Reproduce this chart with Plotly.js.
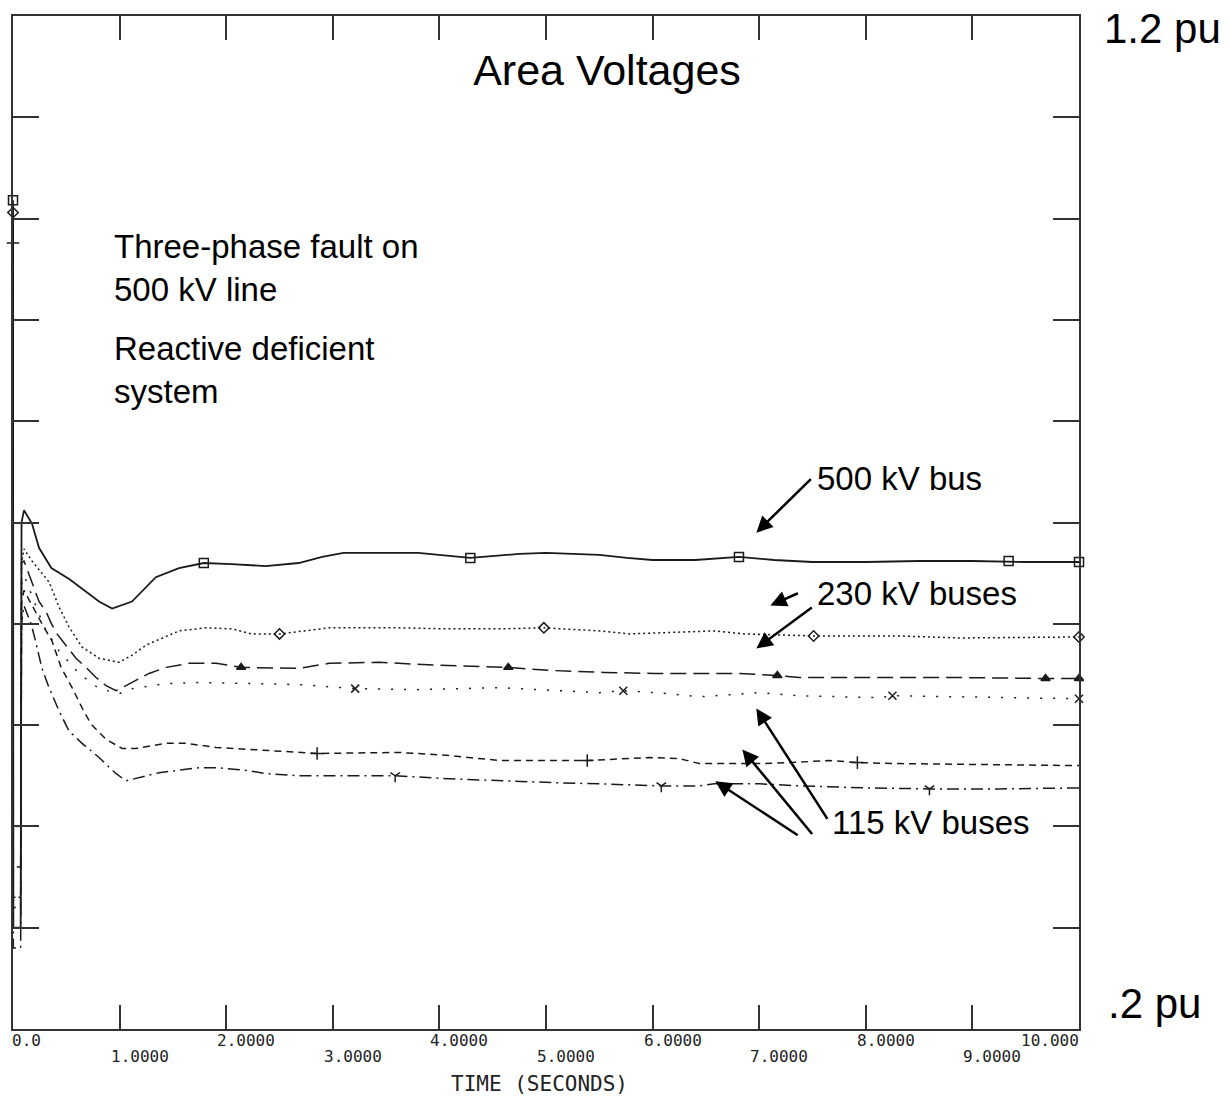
<!DOCTYPE html>
<html>
<head>
<meta charset="utf-8">
<script src="https://cdn.plot.ly/plotly-3.0.1.min.js"></script>
<style>
  html, body { margin: 0; padding: 0; background: #fff; }
  #chart { width: 1230px; height: 1097px; }
</style>
</head>
<body>
<div id="chart"></div>
<script>
// ---------------- DATA (time in seconds, voltage in pu) ----------------
const t500 = [0, 0.003, 0.072, 0.08, 0.103, 0.178, 0.244, 0.36, 0.53, 0.66, 0.807, 0.93, 1.116, 1.34, 1.557, 1.79, 2.05, 2.37, 2.68, 2.9, 3.1, 3.5, 3.8, 4.29, 4.75, 5.0, 5.5, 5.76, 6.0, 6.4, 6.81, 7.14, 7.5, 8.0, 8.5, 9.0, 9.5, 10];
const v500 = [1.018, 0.30, 0.30, 0.70, 0.712, 0.699, 0.675, 0.655, 0.644, 0.634, 0.622, 0.615, 0.622, 0.646, 0.655, 0.660, 0.659, 0.657, 0.660, 0.666, 0.670, 0.670, 0.670, 0.665, 0.669, 0.670, 0.668, 0.665, 0.663, 0.663, 0.666, 0.663, 0.661, 0.661, 0.662, 0.662, 0.661, 0.661];

const t230a = [0, 0.003, 0.072, 0.08, 0.103, 0.178, 0.34, 0.43, 0.525, 0.648, 0.807, 0.995, 1.117, 1.25, 1.557, 1.81, 2.055, 2.24, 2.5, 2.97, 3.62, 4.09, 4.56, 4.98, 5.5, 5.78, 6.58, 6.86, 7.52, 8.32, 8.88, 10];
const v230a = [1.006, 0.33, 0.33, 0.66, 0.674, 0.662, 0.641, 0.617, 0.597, 0.577, 0.566, 0.562, 0.569, 0.579, 0.593, 0.596, 0.595, 0.590, 0.590, 0.596, 0.596, 0.595, 0.595, 0.596, 0.593, 0.590, 0.593, 0.590, 0.588, 0.588, 0.586, 0.587];

const t230b = [0, 0.003, 0.072, 0.08, 0.103, 0.244, 0.31, 0.366, 0.413, 0.497, 0.591, 0.685, 0.779, 0.873, 0.967, 1.06, 1.276, 1.436, 1.652, 1.905, 2.14, 2.684, 2.966, 3.435, 3.998, 4.646, 5.03, 5.547, 6.016, 6.814, 7.17, 7.377, 8.832, 9.686, 10];
const v230b = [1.015, 0.36, 0.36, 0.66, 0.662, 0.622, 0.612, 0.599, 0.590, 0.579, 0.566, 0.557, 0.547, 0.539, 0.534, 0.539, 0.551, 0.557, 0.561, 0.561, 0.557, 0.556, 0.561, 0.562, 0.559, 0.557, 0.554, 0.552, 0.551, 0.551, 0.549, 0.547, 0.547, 0.546, 0.546];

const t115a = [0, 0.003, 0.072, 0.08, 0.103, 0.197, 0.291, 0.432, 0.619, 0.807, 0.995, 1.117, 1.436, 1.746, 2.309, 2.684, 3.21, 3.81, 4.561, 5.124, 5.5, 5.725, 6.157, 6.438, 7.001, 7.377, 8.128, 8.25, 9.254, 10];
const v115a = [1.0, 0.40, 0.40, 0.64, 0.648, 0.622, 0.597, 0.573, 0.551, 0.536, 0.531, 0.536, 0.541, 0.542, 0.541, 0.540, 0.536, 0.535, 0.537, 0.534, 0.532, 0.534, 0.531, 0.528, 0.532, 0.529, 0.527, 0.529, 0.527, 0.526];

const t115b = [0, 0.003, 0.072, 0.08, 0.103, 0.178, 0.272, 0.366, 0.451, 0.554, 0.648, 0.732, 0.873, 1.023, 1.154, 1.436, 1.624, 1.905, 2.215, 2.684, 2.853, 3.623, 4.092, 4.561, 5.387, 5.969, 6.25, 6.438, 7.001, 7.283, 7.658, 7.921, 8.315, 10];
const v115b = [0.976, 0.32, 0.32, 0.62, 0.633, 0.618, 0.600, 0.583, 0.557, 0.537, 0.517, 0.501, 0.486, 0.477, 0.477, 0.482, 0.482, 0.478, 0.476, 0.473, 0.472, 0.473, 0.470, 0.465, 0.465, 0.468, 0.467, 0.462, 0.462, 0.463, 0.465, 0.463, 0.462, 0.460];

const t115c = [0, 0.003, 0.072, 0.08, 0.103, 0.169, 0.197, 0.272, 0.338, 0.432, 0.526, 0.648, 0.807, 0.967, 1.061, 1.370, 1.746, 1.905, 2.215, 2.375, 2.684, 3.585, 4.092, 4.561, 5.124, 5.5, 6.082, 6.438, 6.579, 7.001, 7.377, 8.034, 8.597, 9.254, 10];
const v115c = [1.0, 0.28, 0.28, 0.60, 0.618, 0.600, 0.589, 0.556, 0.537, 0.514, 0.494, 0.482, 0.468, 0.452, 0.445, 0.453, 0.458, 0.458, 0.455, 0.452, 0.450, 0.450, 0.447, 0.445, 0.443, 0.442, 0.440, 0.440, 0.442, 0.442, 0.440, 0.438, 0.437, 0.437, 0.438];

// plotter symbols placed along each curve
const m500t  = [0, 1.79, 4.29, 6.81, 9.34, 10];
const m500v  = [1.018, 0.660, 0.665, 0.666, 0.662, 0.661];
const m230at = [0, 2.5, 4.98, 7.51, 10];
const m230av = [1.006, 0.590, 0.596, 0.588, 0.587];
const m230bt = [2.14, 4.646, 7.17, 9.686, 10];
const m230bv = [0.557, 0.557, 0.549, 0.546, 0.546];
const m115at = [3.21, 5.725, 8.25, 10];
const m115av = [0.536, 0.534, 0.529, 0.526];
const m115bt = [0, 2.853, 5.387, 7.921];
const m115bv = [0.976, 0.472, 0.465, 0.463];
const m115ct = [3.585, 6.082, 8.597];
const m115cv = [0.450, 0.440, 0.437];

// axis tick labels
const xTickVals = [0, 1, 2, 3, 4, 5, 6, 7, 8, 9, 10];
const xTickText = ['0.0', '1.0000', '2.0000', '3.0000', '4.0000', '5.0000', '6.0000', '7.0000', '8.0000', '9.0000', '10.000'];
const yTickVals = [0.2, 0.3, 0.4, 0.5, 0.6, 0.7, 0.8, 0.9, 1.0, 1.1, 1.2];
const xAxisTitle = 'TIME (SECONDS)';
const chartTitle = 'Area Voltages';
const yTopLabel = '1.2 pu';
const yBottomLabel = '.2 pu';

// ---------------- TRACES ----------------
const INK = '#1a1a1a';
function line(t, v, dash, w) {
  return { x: t, y: v, type: 'scatter', mode: 'lines', hoverinfo: 'skip',
           line: { color: INK, width: w || 1.5, dash: dash }, cliponaxis: false };
}
function marks(t, v, sym, size) {
  return { x: t, y: v, type: 'scatter', mode: 'markers', hoverinfo: 'skip', cliponaxis: false,
           marker: { symbol: sym, size: size, color: INK, line: { color: INK, width: 1.5 } } };
}
const data = [
  line(t500, v500, 'solid', 1.8),
  line(t230a, v230a, '2px,3px'),
  line(t230b, v230b, '16px,7px'),
  line(t115a, v115a, '2px,11px'),
  line(t115b, v115b, '7px,5px'),
  line(t115c, v115c, '12px,5px,2px,5px'),
  marks(m500t, m500v, 'square-open', 9),
  marks(m230at, m230av, 'diamond-open', 8),
  marks(m230bt, m230bv, 'triangle-up', 8),
  marks(m115at, m115av, 'x-thin-open', 8),
  marks(m115bt, m115bv, 'cross-thin-open', 9),
  marks(m115ct, m115cv, 'y-down-open', 8)
];

// ---------------- LAYOUT ----------------
const textFont = { family: 'Liberation Sans, Arial, sans-serif', size: 33, color: '#000' };
const monoFont = { family: 'DejaVu Sans Mono, monospace', size: 16, color: '#222' };

const annotations = [];
xTickVals.forEach(function (v, i) {
  const first = i === 0, last = i === xTickVals.length - 1;
  annotations.push({
    x: v, xref: 'x', y: (i % 2 === 0) ? -0.0113 : -0.027, yref: 'paper',
    text: xTickText[i], showarrow: false, font: monoFont,
    xanchor: last ? 'right' : 'left', yanchor: 'middle',
    xshift: first ? -3 : (last ? 2 : -11)
  });
});
annotations.push({ x: 0.494, xref: 'paper', y: -0.054, yref: 'paper', text: xAxisTitle,
  showarrow: false, font: { family: 'DejaVu Sans Mono, monospace', size: 21, color: '#222' },
  xanchor: 'center', yanchor: 'middle' });
annotations.push({ x: 1.022, xref: 'paper', y: 0.988, yref: 'paper', text: yTopLabel,
  showarrow: false, font: { family: 'Liberation Sans, Arial, sans-serif', size: 42, color: '#000' },
  xanchor: 'left', yanchor: 'middle' });
annotations.push({ x: 1.025, xref: 'paper', y: 0.025, yref: 'paper', text: yBottomLabel,
  showarrow: false, font: { family: 'Liberation Sans, Arial, sans-serif', size: 42, color: '#000' },
  xanchor: 'left', yanchor: 'middle' });

// text notes
const notes = [
  { text: 'Three-phase fault on<br>500 kV line', x: 0.0929, y: 0.751 },
  { text: 'Reactive deficient<br>system', x: 0.0929, y: 0.651 },
  { text: '500 kV bus', x: 0.7527, y: 0.5435 },
  { text: '230 kV buses', x: 0.7527, y: 0.430 },
  { text: '115 kV buses', x: 0.7668, y: 0.204 }
];
notes.forEach(function (n) {
  annotations.push({ x: n.x, xref: 'paper', y: n.y, yref: 'paper', text: n.text,
    showarrow: false, font: textFont, align: 'left', xanchor: 'left', yanchor: 'middle' });
});

// pointer arrows (tip in paper coords, tail offset in pixels)
const arrows = [
  { x: 0.6973, y: 0.4900, ax: 56, ay: -55 },
  { x: 0.7105, y: 0.4180, ax: 29, ay: -13 },
  { x: 0.6973, y: 0.3757, ax: 57, ay: -42 },
  { x: 0.6973, y: 0.3165, ax: 72, ay: 112 },
  { x: 0.6842, y: 0.2759, ax: 71, ay: 86 },
  { x: 0.6588, y: 0.2446, ax: 84, ay: 55 }
];
arrows.forEach(function (a) {
  annotations.push({ x: a.x, xref: 'paper', y: a.y, yref: 'paper', ax: a.ax, ay: a.ay,
    text: '', showarrow: true, arrowhead: 2, arrowsize: 1.3, arrowwidth: 2.5, arrowcolor: '#000',
    standoff: 0, startstandoff: 0 });
});

const layout = {
  width: 1230, height: 1097,
  margin: { l: 13, r: 151, t: 16, b: 68 },
  paper_bgcolor: '#fff', plot_bgcolor: '#fff',
  showlegend: false,
  title: { text: chartTitle, x: 0.4935, xref: 'container', xanchor: 'center',
           y: 0.936, yref: 'container', yanchor: 'middle',
           font: { family: 'Liberation Sans, Arial, sans-serif', size: 43, color: '#000' } },
  xaxis: { range: [0, 10], tickvals: xTickVals, showticklabels: false, ticks: 'inside', ticklen: 24,
           tickwidth: 2, tickcolor: '#333', showline: true, linewidth: 2, linecolor: '#333',
           mirror: 'ticks', showgrid: false, zeroline: false, fixedrange: true },
  yaxis: { range: [0.2, 1.2], tickvals: yTickVals, showticklabels: false, ticks: 'inside', ticklen: 26,
           tickwidth: 2, tickcolor: '#333', showline: true, linewidth: 2, linecolor: '#333',
           mirror: 'ticks', showgrid: false, zeroline: false, fixedrange: true },
  annotations: annotations
};

Plotly.newPlot('chart', data, layout, { displayModeBar: false, staticPlot: true });
</script>
</body>
</html>
